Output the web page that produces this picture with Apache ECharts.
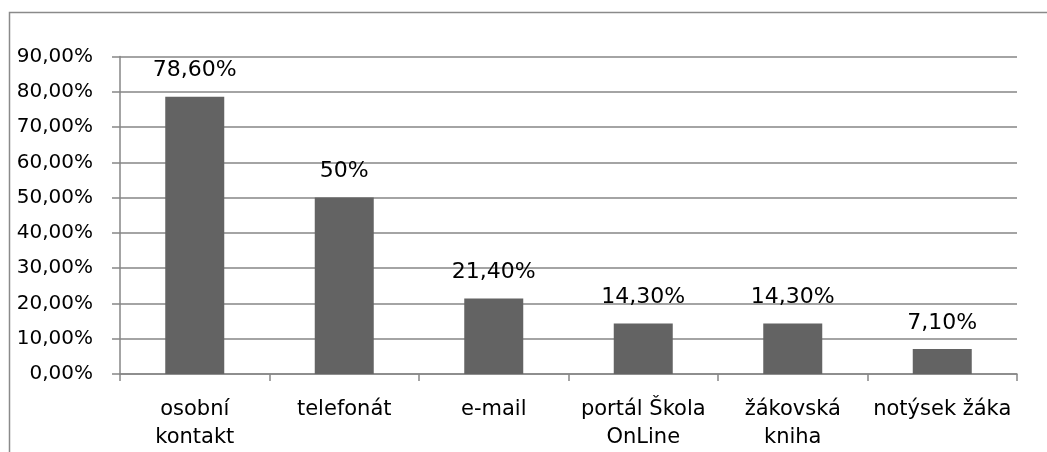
<!DOCTYPE html>
<html>
<head>
<meta charset="utf-8">
<script src="https://cdn.jsdelivr.net/npm/echarts@6/dist/echarts.min.js"></script>
<style>
html,body{margin:0;padding:0;background:#fff;}
#chart{width:1047px;height:452px;}
</style>
</head>
<body>
<div id="chart"></div>
<script>
const categories = ['osobní\nkontakt', 'telefonát', 'e-mail', 'portál Škola\nOnLine', 'žákovská\nkniha', 'notýsek žáka'];
const values = [78.6, 50, 21.4, 14.3, 14.3, 7.1];
const yMin = 0, yMax = 90, yStep = 10;

const font = 'DejaVu Sans';
const fmtPct = v => Number.isInteger(v) ? v + '%' : v.toFixed(2).replace('.', ',') + '%';
const fmtTick = v => v.toFixed(2).replace('.', ',') + '%';

const chart = echarts.init(document.getElementById('chart'), null, {renderer: 'canvas'});
chart.setOption({
  animation: false,
  backgroundColor: '#ffffff',
  textStyle: {fontFamily: font},
  graphic: [{
    type: 'rect',
    shape: {x: 9.5, y: 12.5, width: 1100, height: 500},
    style: {fill: 'none', stroke: '#8a8a8a', lineWidth: 1.5},
    silent: true
  }],
  grid: {left: 120, right: 30, top: 56.5, bottom: 78, containLabel: false},
  xAxis: {
    type: 'category',
    data: categories,
    axisLine: {show: true, lineStyle: {color: '#868686', width: 1.5}},
    axisTick: {show: true, alignWithLabel: false, length: 7, lineStyle: {color: '#868686', width: 1.5}},
    axisLabel: {color: '#000', fontFamily: font, fontSize: 21, margin: 22, lineHeight: 28, interval: 0}
  },
  yAxis: {
    type: 'value',
    min: yMin, max: yMax, interval: yStep,
    axisLine: {show: true, lineStyle: {color: '#868686', width: 1.5}},
    axisTick: {show: true, length: 8, lineStyle: {color: '#868686', width: 1.5}},
    splitLine: {show: true, lineStyle: {color: '#868686', width: 1.5}},
    axisLabel: {color: '#000', fontFamily: font, fontSize: 20, margin: 27, formatter: fmtTick}
  },
  series: [{
    type: 'bar',
    data: values,
    barWidth: 59,
    itemStyle: {color: '#636363'},
    label: {
      show: true, position: 'top', distance: 15,
      color: '#000', fontFamily: font, fontSize: 22,
      formatter: p => fmtPct(p.value)
    }
  }]
});
</script>
</body>
</html>
